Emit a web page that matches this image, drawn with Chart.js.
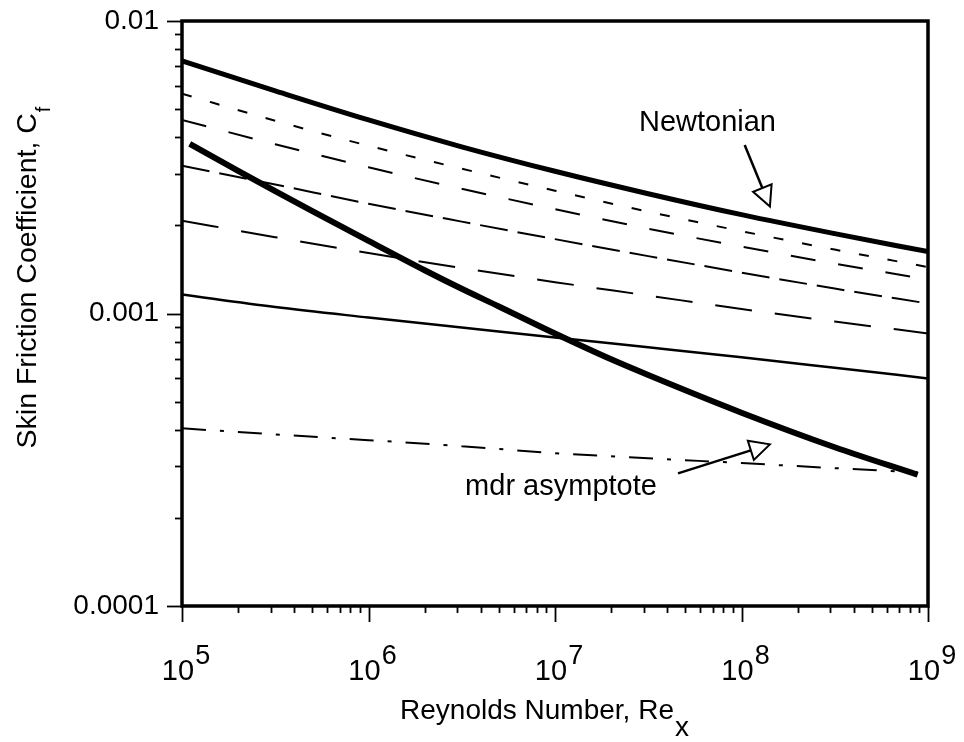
<!DOCTYPE html>
<html>
<head>
<meta charset="utf-8">
<script src="https://cdn.jsdelivr.net/npm/chart.js@4.4.1/dist/chart.umd.min.js"></script>
<style>
  html, body { margin: 0; padding: 0; background: #fff; }
  #wrap { width: 964px; height: 742px; }
</style>
</head>
<body>
<div id="wrap"><canvas id="cfChart" width="964" height="742"></canvas></div>
<script>
// Reynolds numbers shared by most curves
const reynolds = [1e5, 3.16e5, 1e6, 3.16e6, 1e7, 3.16e7, 1e8, 3.16e8, 1e9];

// Skin friction values
const cfNewtonian = [7.30e-3, 5.77e-3, 4.59e-3, 3.715e-3, 3.064e-3, 2.568e-3, 2.177e-3, 1.875e-3, 1.627e-3];
const cfDotted    = [5.64e-3, 4.56e-3, 3.745e-3, 3.126e-3, 2.63e-3, 2.229e-3, 1.912e-3, 1.654e-3, 1.441e-3];
const cfDashA     = [4.59e-3, 3.79e-3, 3.162e-3, 2.67e-3, 2.273e-3, 1.95e-3, 1.693e-3, 1.481e-3, 1.306e-3];
const cfDashB     = [3.20e-3, 2.76e-3, 2.373e-3, 2.061e-3, 1.796e-3, 1.571e-3, 1.38e-3, 1.217e-3, 1.082e-3];
const cfDashC     = [2.077e-3, 1.824e-3, 1.609e-3, 1.43e-3, 1.28e-3, 1.152e-3, 1.036e-3, 0.939e-3, 0.855e-3];
const cfThin      = [1.161e-3, 1.052e-3, 0.969e-3, 0.896e-3, 0.828e-3, 0.766e-3, 0.708e-3, 0.652e-3, 0.600e-3];

// mdr asymptote (dash-dot)
const reMdr = [1e5, 3.16e5, 1e6, 3.16e6, 1e7, 3.16e7, 1e8, 3.16e8, 8.8e8];
const cfMdr = [4.05e-4, 3.86e-4, 3.69e-4, 3.52e-4, 3.33e-4, 3.20e-4, 3.08e-4, 2.96e-4, 2.865e-4];

// thick steep curve
const reSteep = [1.1e5, 2e5, 3.16e5, 5e5, 1e6, 2e6, 3.16e6, 5e6, 1e7, 2e7, 3.16e7, 1e8, 3.16e8, 8.8e8];
const cfSteep = [3.80e-3, 3.072e-3, 2.618e-3, 2.238e-3, 1.772e-3, 1.406e-3, 1.215e-3, 1.057e-3, 0.854e-3, 0.697e-3, 0.616e-3, 0.458e-3, 0.349e-3, 0.281e-3];

// axis tick labels
const xExponents = ["5", "6", "7", "8", "9"];
const yTickLabels = ["0.0001", "0.001", "0.01"];

const FONT = '"Liberation Sans", Arial, Helvetica, sans-serif';

// labels with arrows, in data units
const notes = [
  { text: "Newtonian", x: 6.57e7, y: 4.21e-3, tail: [1.04e8, 3.77e-3], tip: [1.42e8, 2.32e-3] },
  { text: "mdr asymptote", x: 1.077e7, y: 2.39e-4, tail: [4.565e7, 2.84e-4], tip: [1.42e8, 3.57e-4] }
];

function pts(xs, ys) {
  return xs.map((x, i) => ({ x: x, y: ys[i] }));
}

function line(data, width, dash) {
  return {
    data: data,
    borderColor: "#000",
    borderWidth: width,
    borderDash: dash || [],
    pointRadius: 0,
    fill: false,
    cubicInterpolationMode: "monotone",
    borderCapStyle: "butt"
  };
}

// frame, ticks, labels and notes
const framePlugin = {
  id: "frame",
  afterDraw(chart) {
    const ctx = chart.ctx;
    const a = chart.chartArea;
    const xs = chart.scales.x;
    const ys = chart.scales.y;

    ctx.save();
    ctx.strokeStyle = "#000";
    ctx.fillStyle = "#000";

    // box
    ctx.lineWidth = 3.5;
    ctx.strokeRect(a.left, a.top, a.right - a.left, a.bottom - a.top);

    // x ticks
    ctx.lineWidth = 1.8;
    for (let e = 5; e <= 9; e++) {
      for (let m = 1; m <= 9; m++) {
        const v = m * Math.pow(10, e);
        if (v > 1e9) break;
        const px = Math.round(xs.getPixelForValue(v)) + 0.5;
        const len = m === 1 ? 16 : 7;
        ctx.beginPath();
        ctx.moveTo(px, a.bottom);
        ctx.lineTo(px, a.bottom + len);
        ctx.stroke();
      }
    }

    // y ticks
    for (let e = -4; e <= -2; e++) {
      for (let m = 1; m <= 9; m++) {
        const v = m * Math.pow(10, e);
        if (v > 1e-2) break;
        const py = Math.round(ys.getPixelForValue(v)) + 0.5;
        const len = m === 1 ? 15 : 7;
        ctx.beginPath();
        ctx.moveTo(a.left, py);
        ctx.lineTo(a.left - len, py);
        ctx.stroke();
      }
    }

    // x tick labels 10^n
    xExponents.forEach((ex) => {
      const px = xs.getPixelForValue(Math.pow(10, Number(ex)));
      ctx.font = "29px " + FONT;
      ctx.textAlign = "center";
      ctx.textBaseline = "alphabetic";
      ctx.fillText("10", px - 4, 680);
      const w = ctx.measureText("10").width;
      ctx.font = "27px " + FONT;
      ctx.textAlign = "left";
      ctx.fillText(ex, px - 4 + w / 2 + 1, 664);
    });

    // y tick labels
    ctx.font = "28px " + FONT;
    ctx.textAlign = "right";
    ctx.textBaseline = "middle";
    yTickLabels.forEach((t) => {
      const py = ys.getPixelForValue(Number(t));
      ctx.fillText(t, 159, py);
    });

    // x title with subscript
    ctx.textAlign = "left";
    ctx.textBaseline = "alphabetic";
    ctx.font = "28px " + FONT;
    const xMain = "Reynolds Number, Re";
    const wMain = ctx.measureText(xMain).width;
    const wSub = ctx.measureText("x").width;
    const xStart = (a.left + a.right) / 2 - 11 - (wMain + wSub) / 2;
    ctx.fillText(xMain, xStart, 719);
    ctx.fillText("x", xStart + wMain + 1, 736);

    // y title with subscript
    ctx.save();
    ctx.font = "28.5px " + FONT;
    const yMain = "Skin Friction Coefficient, C";
    const wY = ctx.measureText(yMain).width;
    ctx.font = "20px " + FONT;
    const wF = ctx.measureText("f").width;
    ctx.translate(36, 278 + (wY + wF) / 2);
    ctx.rotate(-Math.PI / 2);
    ctx.font = "28.5px " + FONT;
    ctx.fillText(yMain, 0, 0);
    ctx.font = "20px " + FONT;
    ctx.fillText("f", wY + 1, 14);
    ctx.restore();

    // notes with open arrows
    notes.forEach((n) => {
      ctx.font = "29px " + FONT;
      ctx.textAlign = "center";
      ctx.textBaseline = "alphabetic";
      ctx.fillText(n.text, xs.getPixelForValue(n.x), ys.getPixelForValue(n.y));

      const tx = xs.getPixelForValue(n.tail[0]);
      const ty = ys.getPixelForValue(n.tail[1]);
      const hx = xs.getPixelForValue(n.tip[0]);
      const hy = ys.getPixelForValue(n.tip[1]);
      const d = Math.hypot(hx - tx, hy - ty);
      const ux = (hx - tx) / d;
      const uy = (hy - ty) / d;
      const bx = hx - ux * 20;
      const by = hy - uy * 20;

      ctx.lineWidth = 2.5;
      ctx.beginPath();
      ctx.moveTo(tx, ty);
      ctx.lineTo(bx, by);
      ctx.stroke();

      ctx.lineWidth = 2;
      ctx.beginPath();
      ctx.moveTo(hx, hy);
      ctx.lineTo(bx - uy * 10, by + ux * 10);
      ctx.lineTo(bx + uy * 10, by - ux * 10);
      ctx.closePath();
      ctx.fillStyle = "#fff";
      ctx.fill();
      ctx.stroke();
      ctx.fillStyle = "#000";
    });

    ctx.restore();
  }
};

new Chart(document.getElementById("cfChart"), {
  type: "line",
  data: {
    datasets: [
      line(pts(reynolds, cfNewtonian), 5),
      line(pts(reynolds, cfDotted), 2, [10, 19]),
      line(pts(reynolds, cfDashA), 2, [25, 23]),
      line(pts(reynolds, cfDashB), 2, [28, 10]),
      line(pts(reynolds, cfDashC), 2, [37, 23]),
      line(pts(reynolds, cfThin), 2.5),
      line(pts(reSteep, cfSteep), 6),
      line(pts(reMdr, cfMdr), 2, [24, 14, 4, 14])
    ]
  },
  options: {
    responsive: false,
    animation: false,
    devicePixelRatio: 1,
    layout: {
      padding: { left: 182, right: 36, top: 21, bottom: 136 }
    },
    plugins: {
      legend: { display: false },
      tooltip: { enabled: false }
    },
    scales: {
      x: { type: "logarithmic", min: 1e5, max: 1e9, display: false },
      y: { type: "logarithmic", min: 1e-4, max: 1e-2, display: false }
    }
  },
  plugins: [framePlugin]
});
</script>
</body>
</html>
